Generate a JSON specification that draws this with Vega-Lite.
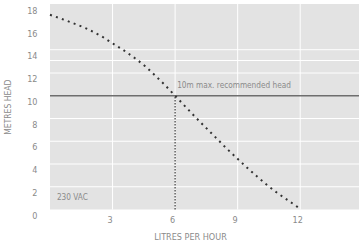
{
  "$schema": "https://vega.github.io/schema/vega-lite/v6.json",
  "autosize": "none",
  "padding": {"left": 50, "top": 4, "right": 0, "bottom": 36.5},
  "width": 309,
  "height": 205.5,
  "config": {
    "view": {"fill": "#e3e3e3", "stroke": null},
    "font": "DejaVu Sans Condensed, Liberation Sans, sans-serif",
    "axis": {"labelOverlap": false, "labelFlush": false, "labelBound": false},
    "axisLeft": {"labelOverlap": false},
    "axisQuantitative": {"labelOverlap": false}
  },
  "datasets": {
    "curve": [
      {"litres": 0.0, "head": 17.12},
      {"litres": 0.88, "head": 16.54},
      {"litres": 1.73, "head": 15.92},
      {"litres": 2.48, "head": 15.22},
      {"litres": 3.01, "head": 14.6},
      {"litres": 3.54, "head": 13.99},
      {"litres": 4.06, "head": 13.32},
      {"litres": 4.57, "head": 12.59},
      {"litres": 5.03, "head": 11.8},
      {"litres": 5.48, "head": 11.0},
      {"litres": 6.0, "head": 10.0},
      {"litres": 7.12, "head": 7.85},
      {"litres": 8.03, "head": 6.18},
      {"litres": 8.49, "head": 5.33},
      {"litres": 8.96, "head": 4.52},
      {"litres": 9.44, "head": 3.7},
      {"litres": 9.93, "head": 2.91},
      {"litres": 10.41, "head": 2.15},
      {"litres": 10.93, "head": 1.42},
      {"litres": 11.46, "head": 0.75},
      {"litres": 12.05, "head": 0.0}
    ],
    "hgrid": [{"v": 2}, {"v": 4}, {"v": 6}, {"v": 8}, {"v": 12}, {"v": 13.1}, {"v": 14.05}],
    "vgrid": [{"v": 3}, {"v": 6}, {"v": 9}, {"v": 12}],
    "notes": [
      {"litres": 6.1, "head": 10.83, "label": "10m max. recommended head"},
      {"litres": 0.33, "head": 1.05, "label": "230 VAC"}
    ]
  },
  "layer": [
    {
      "data": {"name": "hgrid"},
      "mark": {"type": "rule", "color": "#ffffff", "strokeWidth": 1},
      "encoding": {
        "y": {"field": "v", "type": "quantitative", "scale": {"domain": [0, 18.07], "nice": false, "zero": false},
          "axis": {
            "title": "METRES HEAD", "tickCount": 10, "grid": false,
            "domain": false, "ticks": false, "labelPadding": 13, "labelBaseline": "top", "labelOffset": 1.5,
            "labelOverlap": false, "labelFlush": false, "labelBound": false,
            "labelFontSize": 9, "labelColor": "#8a8a8a",
            "titleFontSize": 8.5, "titleFontWeight": "normal",
            "titleColor": "#8a8a8a", "titlePadding": 14
          }}
      }
    },
    {
      "data": {"name": "vgrid"},
      "mark": {"type": "rule", "color": "#ffffff", "strokeWidth": 1},
      "encoding": {
        "x": {"field": "v", "type": "quantitative", "scale": {"domain": [0, 14.82], "nice": false, "zero": false},
          "axis": {
            "title": "LITRES PER HOUR", "values": [3, 6, 9, 12], "grid": false,
            "domain": false, "ticks": false, "labelPadding": 6, "labelOffset": -3,
            "labelOverlap": false, "labelFlush": false, "labelBound": false,
            "labelFontSize": 9, "labelColor": "#8a8a8a",
            "titleFontSize": 9, "titleFontWeight": "normal",
            "titleColor": "#8a8a8a", "titlePadding": 8, "titleX": 140
          }}
      }
    },
    {
      "data": {"values": [{"v": 10}]},
      "mark": {"type": "rule", "color": "#6e6e6e", "strokeWidth": 1.6},
      "encoding": {
        "y": {"field": "v", "type": "quantitative", "scale": {"domain": [0, 18.07], "nice": false, "zero": false}}
      }
    },
    {
      "data": {"values": [{"litres": 6, "head": 0, "head2": 10}]},
      "mark": {"type": "rule", "color": "#555555", "strokeWidth": 1.4, "strokeDash": [1.5, 1.5]},
      "encoding": {
        "x": {"field": "litres", "type": "quantitative", "scale": {"domain": [0, 14.82], "nice": false, "zero": false}},
        "y": {"field": "head", "type": "quantitative", "scale": {"domain": [0, 18.07], "nice": false, "zero": false}},
        "y2": {"field": "head2"}
      }
    },
    {
      "data": {"name": "curve"},
      "mark": {"type": "line", "color": "#333333", "strokeWidth": 2, "strokeDash": [2, 4.3], "interpolate": "monotone"},
      "encoding": {
        "x": {"field": "litres", "type": "quantitative", "scale": {"domain": [0, 14.82], "nice": false, "zero": false}},
        "y": {"field": "head", "type": "quantitative", "scale": {"domain": [0, 18.07], "nice": false, "zero": false}}
      }
    },
    {
      "data": {"name": "notes"},
      "mark": {"type": "text", "align": "left", "baseline": "middle", "fontSize": 8.2, "color": "#8a8a8a"},
      "encoding": {
        "x": {"field": "litres", "type": "quantitative", "scale": {"domain": [0, 14.82], "nice": false, "zero": false}},
        "y": {"field": "head", "type": "quantitative", "scale": {"domain": [0, 18.07], "nice": false, "zero": false}},
        "text": {"field": "label"}
      }
    }
  ]
}
